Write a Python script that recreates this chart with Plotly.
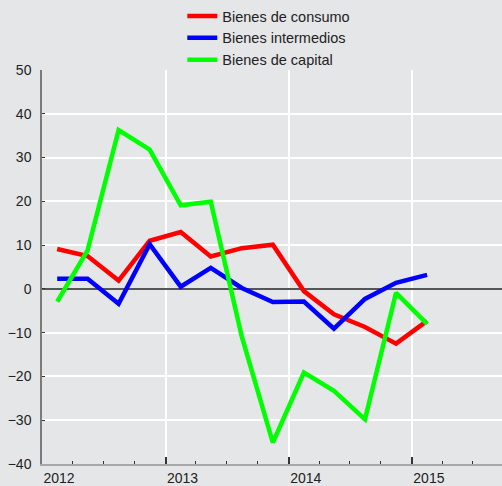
import plotly.graph_objects as go

quarters = ["2012-02-15", "2012-05-15", "2012-08-15", "2012-11-15",
            "2013-02-15", "2013-05-15", "2013-08-15", "2013-11-15",
            "2014-02-15", "2014-05-15", "2014-08-15", "2014-11-15",
            "2015-02-15"]
consumo = [9.1, 7.5, 1.9, 11.0, 13.0, 7.4, 9.3, 10.1, -0.5, -5.8, -8.7, -12.5, -7.3]
intermedios = [2.3, 2.3, -3.4, 10.2, 0.5, 4.8, 0.2, -3.0, -2.9, -9.1, -2.3, 1.4, 3.2]
capital = [-2.9, 8.8, 36.3, 31.8, 19.1, 19.9, -10.9, -35.1, -19.1, -23.3, -29.8, -0.9, -8.0]

series = [("Bienes de consumo", consumo, "#ff0000"),
          ("Bienes intermedios", intermedios, "#0000ff"),
          ("Bienes de capital", capital, "#00ff00")]

bg = "#e5e6e8"
fig = go.Figure()
for name, vals, col in series:
    fig.add_trace(go.Scatter(x=quarters, y=vals, name=name, mode="lines",
                             line=dict(color=col, width=4.5)))

fig.update_layout(
    width=502, height=486,
    margin=dict(l=42, r=0, t=70, b=22, autoexpand=False),
    paper_bgcolor=bg, plot_bgcolor=bg,
    font=dict(family="Liberation Sans, Arial", size=14, color="#222"),
    legend=dict(x=0.305, y=1.0, xanchor="left", yanchor="top",
                yref="container",
                bgcolor="rgba(0,0,0,0)", font=dict(size=14.5, color="#222")),
    showlegend=True,
)
fig.update_xaxes(
    type="date", range=["2012-01-01", "2015-09-25"],
    tickvals=["2012-01-01", "2013-01-01", "2014-01-01", "2015-01-01"],
    ticktext=["2012", "2013", "2014", "2015"],
    ticks="inside", ticklen=7, tickwidth=1.5, tickcolor="#333",
    ticklabelshift=17, ticklabelstandoff=0,
    minor=dict(tickvals=["2012-04-01", "2012-07-01", "2012-10-01",
                         "2013-04-01", "2013-07-01", "2013-10-01",
                         "2014-04-01", "2014-07-01", "2014-10-01",
                         "2015-04-01", "2015-07-01"],
               ticks="inside", ticklen=3, tickwidth=1, tickcolor="#333",
               showgrid=False),
    showgrid=True, gridcolor="#ffffff", gridwidth=1.5,
    showline=True, linecolor="#a8a8a8", linewidth=2,
    zeroline=False, automargin=False,
)
fig.update_yaxes(
    range=[-40, 50], dtick=10, tick0=0,
    ticks="inside", ticklen=3, tickcolor="#333", tickwidth=1,
    showgrid=True, gridcolor="#ffffff", gridwidth=1.5,
    showline=True, linecolor="#7a7a7a", linewidth=1.5,
    zeroline=True, zerolinecolor="#555555", zerolinewidth=1.5,
    ticklabelstandoff=6, automargin=False,
)
fig.write_html("out.html", config={"displayModeBar": False},
               post_script="document.body.style.margin='0';document.body.style.background='%s';" % bg)
